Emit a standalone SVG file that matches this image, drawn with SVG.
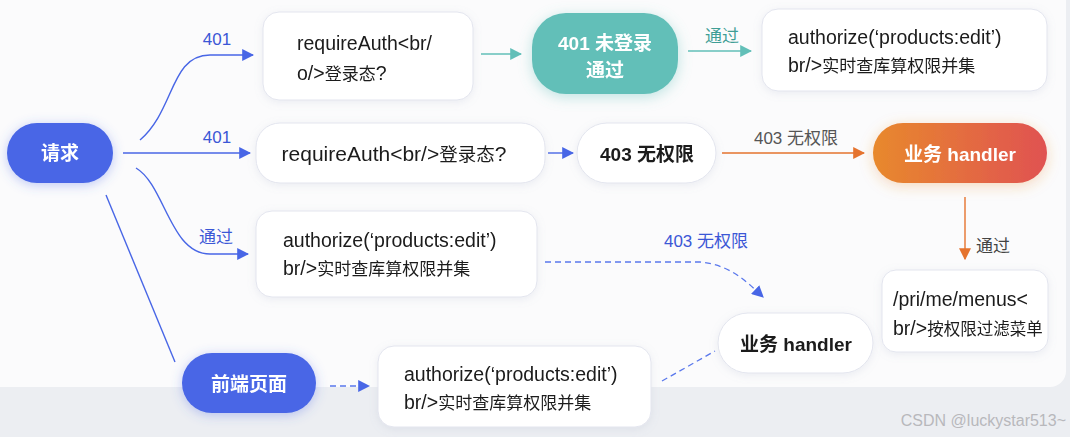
<svg xmlns="http://www.w3.org/2000/svg" width="1070" height="437" viewBox="0 0 1070 437">
<defs>
<style>
.box{fill:#fff;stroke:#e3e5ee;stroke-width:1}
.t{font-family:"Liberation Sans","Noto Sans CJK SC",sans-serif;font-size:19.5px;fill:#1a1a1a}
.c{font-size:17px}
.tb{font-family:"Liberation Sans","Noto Sans CJK SC",sans-serif;font-size:19px;font-weight:bold;fill:#fff}
.lb{font-family:"Liberation Sans","Noto Sans CJK SC",sans-serif;font-size:17px}
.blue{stroke:#4866e6;fill:none;stroke-width:1.4}
.dash{stroke:#5a78ec;fill:none;stroke-width:1.3;stroke-dasharray:6 4}
</style>
<marker id="ab" viewBox="0 0 10 10" refX="9" refY="5" markerWidth="12" markerHeight="12" markerUnits="userSpaceOnUse" orient="auto"><path d="M0,0L10,5L0,10z" fill="#4866e6"/></marker>
<marker id="at" viewBox="0 0 10 10" refX="9" refY="5" markerWidth="12" markerHeight="12" markerUnits="userSpaceOnUse" orient="auto"><path d="M0,0L10,5L0,10z" fill="#62bfb8"/></marker>
<marker id="ao" viewBox="0 0 10 10" refX="9" refY="5" markerWidth="12" markerHeight="12" markerUnits="userSpaceOnUse" orient="auto"><path d="M0,0L10,5L0,10z" fill="#e5732e"/></marker>
<linearGradient id="og" x1="0" y1="0" x2="1" y2="0"><stop offset="0" stop-color="#e8892c"/><stop offset="1" stop-color="#e05252"/></linearGradient>
<filter id="sh" x="-20%" y="-30%" width="140%" height="160%"><feDropShadow dx="0" dy="2" stdDeviation="4" flood-color="#8890b0" flood-opacity="0.15"/></filter>
<filter id="glowb" x="-30%" y="-50%" width="160%" height="200%"><feDropShadow dx="0" dy="2" stdDeviation="6" flood-color="#4866e6" flood-opacity="0.35"/></filter>
<filter id="glowt" x="-30%" y="-50%" width="160%" height="200%"><feDropShadow dx="0" dy="3" stdDeviation="7" flood-color="#62bfb8" flood-opacity="0.4"/></filter>
<filter id="glowo" x="-30%" y="-50%" width="160%" height="200%"><feDropShadow dx="0" dy="3" stdDeviation="7" flood-color="#e8892c" flood-opacity="0.3"/></filter>
</defs>
<rect x="0" y="0" width="1070" height="437" fill="#eceef2"/>
<rect x="-20" y="-20" width="1086" height="407" rx="16" fill="#fbfbfc"/>

<g id="connectors">
<path class="blue" d="M140,140 C175,110 170,55 210,55 L253,55" marker-end="url(#ab)"/>
<text class="lb" x="217" y="45" fill="#3b57d6" text-anchor="middle">401</text>
<path class="blue" d="M123,153 L250,153" marker-end="url(#ab)"/>
<text class="lb" x="217" y="143" fill="#3b57d6" text-anchor="middle">401</text>
<path class="blue" d="M136,168 C165,185 170,254 210,254 L248,254" marker-end="url(#ab)"/>
<text class="lb" x="216" y="243" fill="#3b57d6" text-anchor="middle">通过</text>
<path class="blue" d="M106,195 L175,362"/>
<path d="M481,54 L521,54" stroke="#62bfb8" stroke-width="1.6" fill="none" marker-end="url(#at)"/>
<path d="M688,51 L751,51" stroke="#62bfb8" stroke-width="1.6" fill="none" marker-end="url(#at)"/>
<text class="lb" x="722" y="42" fill="#3f9e96" text-anchor="middle">通过</text>
<path class="blue" d="M548,153 L573,153" marker-end="url(#ab)"/>
<path d="M722,153 L864,153" stroke="#e5732e" stroke-width="1.4" fill="none" marker-end="url(#ao)"/>
<text class="lb" x="796" y="144" fill="#555" text-anchor="middle">403 无权限</text>
<path d="M965,197 L965,259" stroke="#e5732e" stroke-width="1.4" fill="none" marker-end="url(#ao)"/>
<text class="lb" x="993" y="252" fill="#444" text-anchor="middle">通过</text>
<path class="dash" d="M545,262 L700,262 C730,265 745,280 763,297" marker-end="url(#ab)"/>
<text class="lb" x="706" y="247" fill="#3b57d6" text-anchor="middle">403 无权限</text>
<path class="dash" d="M330,386 L369,386" marker-end="url(#ab)"/>
<path class="dash" d="M662,381 L715,351"/>
</g>

<g id="n-req" filter="url(#glowb)"><rect x="7" y="123" width="106" height="60" rx="30" fill="#4866e6"/><text class="tb" x="60" y="160" text-anchor="middle">请求</text></g>
<g id="n-auth1" filter="url(#sh)"><rect class="box" x="263" y="12" width="210" height="88" rx="16"/><text class="t" x="297" y="50">requireAuth&lt;br/</text><text class="t" x="297" y="80">o/&gt;<tspan class="c">登录态</tspan>?</text></g>
<g id="n-401" filter="url(#glowt)"><rect x="532" y="13" width="146" height="81" rx="34" fill="#62bfb8"/><text class="tb" x="605" y="50" text-anchor="middle">401 未登录</text><text class="tb" x="605" y="77" text-anchor="middle">通过</text></g>
<g id="n-authz1" filter="url(#sh)"><rect class="box" x="762" y="9" width="285" height="82" rx="16"/><text class="t" x="788" y="44">authorize(‘products:edit’)</text><text class="t" x="788" y="72">br/&gt;<tspan class="c">实时查库算权限并集</tspan></text></g>
<g id="n-auth2" filter="url(#sh)"><rect class="box" x="256" y="123" width="289" height="60" rx="24"/><text class="t" x="394" y="161" text-anchor="middle" style="font-size:21px">requireAuth&lt;br/&gt;<tspan style="font-size:18.5px">登录态</tspan>?</text></g>
<g id="n-403" filter="url(#sh)"><rect class="box" x="577" y="123" width="139" height="60" rx="30"/><text class="t" x="647" y="161" text-anchor="middle" style="font-size:19px;font-weight:bold">403 无权限</text></g>
<g id="n-biz1" filter="url(#glowo)"><rect x="873" y="123" width="174" height="60" rx="30" fill="url(#og)"/><text class="tb" x="960" y="161" text-anchor="middle">业务 handler</text></g>
<g id="n-authz2" filter="url(#sh)"><rect class="box" x="256" y="211" width="281" height="86" rx="16"/><text class="t" x="283" y="247">authorize(‘products:edit’)</text><text class="t" x="283" y="275">br/&gt;<tspan class="c">实时查库算权限并集</tspan></text></g>
<g id="n-biz2" filter="url(#sh)"><rect class="box" x="718" y="313" width="155" height="60" rx="30"/><text class="t" x="796" y="351" text-anchor="middle" style="font-size:19px;font-weight:bold">业务 handler</text></g>
<g id="n-menus" filter="url(#sh)"><rect class="box" x="882" y="270" width="166" height="82" rx="14"/><text class="t" x="893" y="306">/pri/me/menus&lt;</text><text class="t" x="893" y="335">br/&gt;<tspan style="font-size:16.5px">按权限过滤菜单</tspan></text></g>
<g id="n-front" filter="url(#glowb)"><rect x="182" y="353" width="134" height="60" rx="30" fill="#4866e6"/><text class="tb" x="249" y="391" text-anchor="middle">前端页面</text></g>
<g id="n-authz3" filter="url(#sh)"><rect class="box" x="378" y="346" width="273" height="81" rx="16"/><text class="t" x="404" y="381">authorize(‘products:edit’)</text><text class="t" x="404" y="409">br/&gt;<tspan class="c">实时查库算权限并集</tspan></text></g>
<text x="1066" y="426" text-anchor="end" style="font-family:'Liberation Sans','Noto Sans',sans-serif;font-size:16px;fill:#b8b8bc">CSDN @luckystar513~</text>
</svg>
